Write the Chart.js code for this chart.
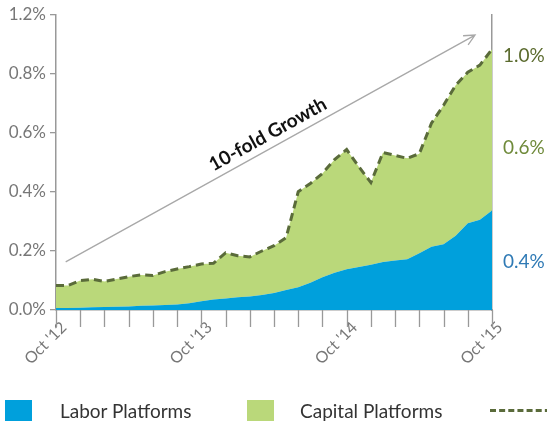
<!DOCTYPE html>
<html>
<head>
<meta charset="utf-8">
<script src="https://cdn.jsdelivr.net/npm/chart.js@4/dist/chart.umd.min.js"></script>
<style>
  html, body { margin: 0; padding: 0; background: #fff; }
  #wrap { position: relative; width: 547px; height: 424px; overflow: hidden; }
  #chart { position: absolute; left: 0; top: 0; }
  .lg { position: absolute; font-family: Lato, sans-serif; font-size: 19px; color: #333; }
  .sw { position: absolute; width: 27px; height: 21px; }
</style>
</head>
<body>
<div id="wrap">
  <canvas id="chart" width="547" height="424"></canvas>
  <div class="sw" style="left:5px; top:400px; background:#00a0dc"></div>
  <div class="lg" style="left:60px; top:399px">Labor Platforms</div>
  <div class="sw" style="left:247px; top:400px; background:#bad87a"></div>
  <div class="lg" style="left:300px; top:399px">Capital Platforms</div>
  <div style="position:absolute; left:490px; top:409px; width:70px; border-top:3px dashed #5a6b3a"></div>
</div>
<script>
// Oct '12 .. Oct '15, monthly
const months = [
  "Oct '12", "Nov '12", "Dec '12", "Jan '13", "Feb '13", "Mar '13", "Apr '13", "May '13", "Jun '13", "Jul '13", "Aug '13", "Sep '13",
  "Oct '13", "Nov '13", "Dec '13", "Jan '14", "Feb '14", "Mar '14", "Apr '14", "May '14", "Jun '14", "Jul '14", "Aug '14", "Sep '14",
  "Oct '14", "Nov '14", "Dec '14", "Jan '15", "Feb '15", "Mar '15", "Apr '15", "May '15", "Jun '15", "Jul '15", "Aug '15", "Sep '15",
  "Oct '15"
];
// labor platforms share (%)
const labor = [
  0.007, 0.007, 0.008, 0.009, 0.010, 0.011, 0.012, 0.014, 0.015, 0.017, 0.019, 0.023,
  0.030, 0.036, 0.039, 0.043, 0.046, 0.051, 0.058, 0.068, 0.077, 0.092, 0.111, 0.126,
  0.138, 0.146, 0.153, 0.163, 0.168, 0.172, 0.192, 0.214, 0.223, 0.252, 0.294, 0.306,
  0.337
];
// labor + capital (dashed total)
const total = [
  0.083, 0.083, 0.100, 0.104, 0.097, 0.105, 0.113, 0.119, 0.117, 0.130, 0.139, 0.147,
  0.156, 0.158, 0.194, 0.184, 0.180, 0.200, 0.218, 0.245, 0.401, 0.429, 0.463, 0.510,
  0.544, 0.486, 0.432, 0.534, 0.524, 0.514, 0.530, 0.633, 0.694, 0.762, 0.806, 0.830,
  0.884
];
const yTickLabels = ["0.0%", "0.2%", "0.4%", "0.6%", "0.8%", "1.2%"];
const yearTicks = [0, 12, 24, 36];
// labels on the right edge: text, value position, colour
const sideLabels = [
  { text: "1.0%", value: 0.86, color: "#5b6b2e" },
  { text: "0.6%", value: 0.55, color: "#6f8a3a" },
  { text: "0.4%", value: 0.163, color: "#2f7ab5" }
];

const FONT = "Lato, sans-serif";
const AXIS = "#999";
const TICK_TEXT = "#777";

const annotations = {
  id: "annotations",
  afterDraw(chart) {
    const { ctx, scales: { x, y }, chartArea } = chart;
    ctx.save();
    // growth arrow
    const x0 = x.getPixelForValue(0.8), y0 = y.getPixelForValue(0.163);
    const x1 = x.getPixelForValue(34.6), y1 = y.getPixelForValue(0.932);
    const ang = Math.atan2(y1 - y0, x1 - x0);
    ctx.strokeStyle = "#a8a8a8";
    ctx.lineWidth = 1.3;
    ctx.beginPath();
    ctx.moveTo(x0, y0);
    ctx.lineTo(x1, y1);
    ctx.moveTo(x1 + 12 * Math.cos(ang + Math.PI - 0.45), y1 + 12 * Math.sin(ang + Math.PI - 0.45));
    ctx.lineTo(x1, y1);
    ctx.lineTo(x1 + 12 * Math.cos(ang + Math.PI + 0.45), y1 + 12 * Math.sin(ang + Math.PI + 0.45));
    ctx.stroke();

    // label along the arrow
    const tx = x0 + (x1 - x0) * 0.51, ty = y0 + (y1 - y0) * 0.51;
    ctx.translate(tx, ty);
    ctx.rotate(ang);
    ctx.fillStyle = "#111";
    ctx.font = "bold 19px " + FONT;
    ctx.textAlign = "center";
    ctx.textBaseline = "bottom";
    ctx.fillText("10-fold Growth", 0, -4);
    ctx.setTransform(1, 0, 0, 1, 0, 0);

    // tick marks under the x axis, every second month
    ctx.strokeStyle = AXIS;
    ctx.lineWidth = 1.3;
    ctx.beginPath();
    months.forEach((m, i) => {
      if (i % 2) return;
      const px = Math.round(x.getPixelForValue(i)) + 0.5;
      ctx.moveTo(px, chartArea.bottom);
      ctx.lineTo(px, chartArea.bottom + 17);
    });
    ctx.stroke();

    // end-value labels
    ctx.font = "19px " + FONT;
    ctx.textAlign = "left";
    ctx.textBaseline = "middle";
    sideLabels.forEach((l) => {
      ctx.fillStyle = l.color;
      ctx.fillText(l.text, chartArea.right + 11, y.getPixelForValue(l.value));
    });
    ctx.restore();
  }
};

new Chart(document.getElementById("chart"), {
  type: "line",
  data: {
    labels: months,
    datasets: [
      {
        label: "Labor Platforms",
        data: labor,
        fill: "origin",
        backgroundColor: "#00a0dc",
        borderWidth: 0,
        pointRadius: 0,
        tension: 0
      },
      {
        label: "Total",
        data: total,
        fill: "-1",
        backgroundColor: "#bad87a",
        borderColor: "#5a6b3a",
        borderWidth: 3,
        borderDash: [8, 5],
        pointRadius: 0,
        tension: 0,
        clip: 4
      }
    ]
  },
  options: {
    responsive: false,
    animation: false,
    layout: { padding: { top: 15, right: 0, bottom: 0, left: 0 } },
    plugins: { legend: { display: false }, tooltip: { enabled: false } },
    scales: {
      x: {
        grid: { display: false },
        border: { display: true, color: AXIS, width: 1.5 },
        ticks: {
          autoSkip: false,
          minRotation: 45,
          maxRotation: 45,
          color: TICK_TEXT,
          font: { family: FONT, size: 16 },
          padding: 0,
          labelOffset: 8,
          callback: (v, i) => (yearTicks.includes(i) ? months[i] : "")
        },
        afterFit: (s) => { s.height = 114; }
      },
      y: {
        min: 0,
        max: 1.0,
        grid: { drawOnChartArea: false, color: AXIS, tickLength: 6, lineWidth: 1.3 },
        border: { color: AXIS, width: 1.5 },
        ticks: {
          stepSize: 0.2,
          color: TICK_TEXT,
          padding: 4,
          font: { family: FONT, size: 17 },
          callback: (v, i) => yTickLabels[i]
        },
        afterFit: (s) => { s.width = 56; }
      },
      y2: {
        position: "right",
        min: 0,
        max: 1.0,
        grid: { drawOnChartArea: false, drawTicks: false },
        border: { color: AXIS, width: 1.5 },
        ticks: { display: false },
        afterFit: (s) => { s.width = 55; }
      }
    }
  },
  plugins: [annotations]
});
</script>
</body>
</html>
